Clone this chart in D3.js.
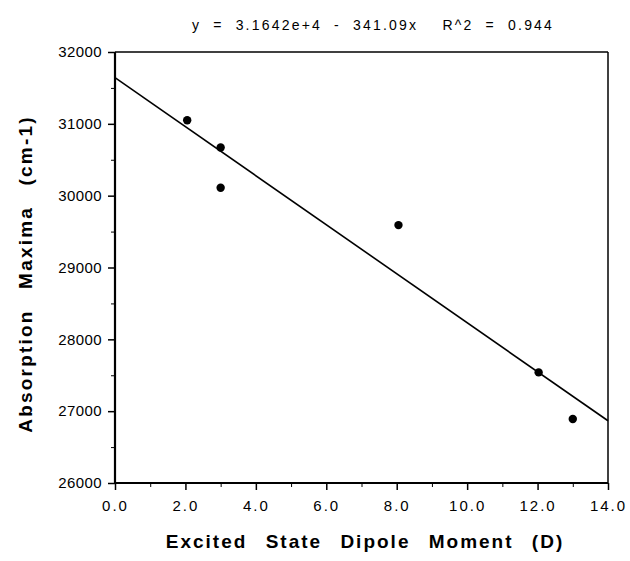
<!DOCTYPE html>
<html>
<head>
<meta charset="utf-8">
<script src="https://cdn.jsdelivr.net/npm/d3@7"></script>
<style>
  body { margin: 0; background: #fff; }
  svg text { font-family: "Liberation Sans", Arial, sans-serif; fill: #000; }
</style>
</head>
<body>
<svg id="chart" width="630" height="561"></svg>
<script>
// values
const dipole = [2.05, 3.0, 3.0, 8.05, 12.03, 13.0];
const absorption = [31050, 30670, 30110, 29590, 27540, 26890];
const fitIntercept = 31642, fitSlope = -341.09;
const xTicks = [0, 2, 4, 6, 8, 10, 12, 14];
const yTicks = [26000, 27000, 28000, 29000, 30000, 31000, 32000];

const svg = d3.select("#chart"),
    margin = {top: 52, right: 22, bottom: 78, left: 115},
    width = 630 - margin.left - margin.right,
    height = 561 - margin.top - margin.bottom;

const x = d3.scaleLinear().domain([0, 14]).range([0, width]);
const y = d3.scaleLinear().domain([26000, 32000]).range([height, 0]);

const g = svg.append("g")
    .attr("transform", "translate(" + margin.left + "," + margin.top + ")");

// minor ticks
g.append("g")
    .attr("transform", "translate(0," + height + ")")
    .call(d3.axisBottom(x).tickValues(d3.range(1, 14, 2)).tickSize(4).tickFormat(""))
    .call(a => a.select(".domain").remove());
g.append("g")
    .call(d3.axisLeft(y).tickValues(d3.range(26500, 32000, 1000)).tickSize(4).tickFormat(""))
    .call(a => a.select(".domain").remove());

const xAxis = g.append("g")
    .attr("transform", "translate(0," + height + ")")
    .call(d3.axisBottom(x).tickValues(xTicks).tickSize(7).tickPadding(10).tickFormat(d3.format(".1f")));
const yAxis = g.append("g")
    .call(d3.axisLeft(y).tickValues(yTicks).tickSize(7).tickPadding(6).tickFormat(d3.format("d")));

xAxis.selectAll("text").style("letter-spacing", "2px");
yAxis.selectAll("text").style("letter-spacing", "0.4px");
[xAxis, yAxis].forEach(a => {
  a.select(".domain").remove();
  a.selectAll("text").style("font-size", "15px");
  a.selectAll(".tick line").attr("stroke-width", 1.5);
});

// frame: thick left/bottom, thin top/right
g.append("line").attr("x1", 0).attr("x2", width).attr("y1", 0).attr("y2", 0)
    .attr("stroke", "#000").attr("stroke-width", 1.5);
g.append("line").attr("x1", width).attr("x2", width).attr("y1", 0).attr("y2", height)
    .attr("stroke", "#000").attr("stroke-width", 1.5);
g.append("line").attr("x1", 0).attr("x2", 0).attr("y1", 0).attr("y2", height)
    .attr("stroke", "#000").attr("stroke-width", 2.2);
g.append("line").attr("x1", 0).attr("x2", width).attr("y1", height).attr("y2", height)
    .attr("stroke", "#000").attr("stroke-width", 2.2);

// regression line
g.append("line")
    .attr("x1", x(0)).attr("y1", y(fitIntercept))
    .attr("x2", x(14)).attr("y2", y(fitIntercept + fitSlope * 14))
    .attr("stroke", "#000").attr("stroke-width", 1.6);

g.selectAll("circle")
    .data(dipole)
    .enter().append("circle")
    .attr("cx", d => x(d))
    .attr("cy", (d, i) => y(absorption[i]))
    .attr("r", 4.2)
    .attr("fill", "#000");

svg.append("text")
    .attr("x", 373).attr("y", 30)
    .attr("text-anchor", "middle")
    .style("font-size", "14px")
    .style("letter-spacing", "2.2px").style("word-spacing", "6px")
    .style("white-space", "pre")
    .text("y = 3.1642e+4 - 341.09x  R^2 = 0.944");

svg.append("text")
    .attr("x", 365).attr("y", 548)
    .attr("text-anchor", "middle")
    .style("font-size", "19px").style("font-weight", "bold")
    .style("word-spacing", "11px").style("letter-spacing", "2px")
    .text("Excited State Dipole Moment (D)");

svg.append("text")
    .attr("transform", "translate(32,274) rotate(-90)")
    .attr("text-anchor", "middle")
    .style("font-size", "19px").style("font-weight", "bold")
    .style("word-spacing", "13px").style("letter-spacing", "2.2px")
    .text("Absorption Maxima (cm-1)");
</script>
</body>
</html>
